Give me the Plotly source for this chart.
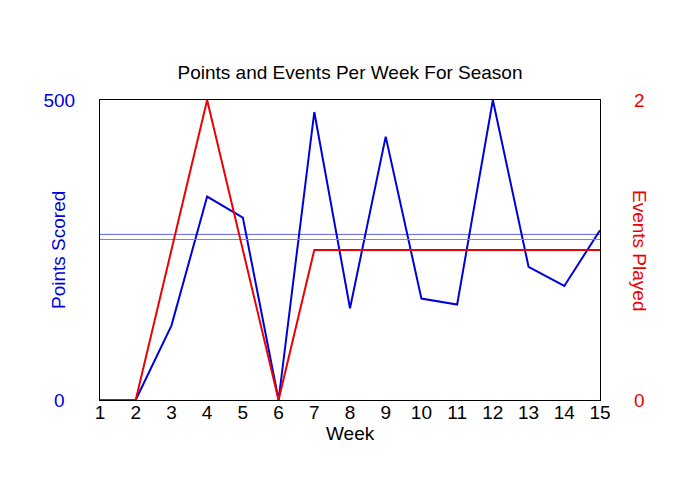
import plotly.graph_objects as go

weeks = list(range(1, 16))
points_scored = [0, 0, 124, 339, 304, 0, 480, 153, 439, 169, 159, 500, 222, 190, 283]
events_played = [0, 0, 1, 2, 1, 0, 1, 1, 1, 1, 1, 1, 1, 1, 1]
points_avg = 276
events_avg = 1.07

BLUE = "#0000DD"
RED = "#EE0000"
FONT = "Liberation Sans, Arial, sans-serif"

fig = go.Figure()
fig.add_trace(go.Scatter(x=[weeks[0], weeks[-1]], y=[points_avg, points_avg], mode="lines",
                         line=dict(color="#6464E8", width=1), yaxis="y", hoverinfo="skip"))
fig.add_trace(go.Scatter(x=[weeks[0], weeks[-1]], y=[events_avg, events_avg], mode="lines",
                         line=dict(color="#E86464", width=1), yaxis="y2", hoverinfo="skip"))
fig.add_trace(go.Scatter(x=weeks, y=points_scored, mode="lines",
                         line=dict(color=BLUE, width=2), yaxis="y"))
fig.add_trace(go.Scatter(x=weeks, y=events_played, mode="lines",
                         line=dict(color=RED, width=2), yaxis="y2"))

fig.update_layout(
    width=700, height=500,
    margin=dict(l=92, r=108, t=92, b=108),
    paper_bgcolor="white", plot_bgcolor="white",
    showlegend=False,
    font=dict(family=FONT, size=19, color="black"),
    title=dict(text="Points and Events Per Week For Season", x=(350 - 8) / 700, xanchor="center",
               y=1 - 64 / 500, yanchor="middle", font=dict(size=19, color="black")),
    xaxis=dict(range=[1, 15], tickvals=weeks, showgrid=False, zeroline=False,
               showline=True, mirror=True, linecolor="black", linewidth=1,
               ticks="", ticklen=0, ticklabelstandoff=-5, tickfont=dict(size=19, color="black")),
    yaxis=dict(range=[0, 500], tickvals=[0, 500], ticktext=["0\u2007", "500"],
               showgrid=False, zeroline=False, showline=True, mirror=True,
               linecolor="black", linewidth=1, ticks="", ticklen=0, ticklabelstandoff=20,
               tickfont=dict(size=19, color=BLUE)),
    yaxis2=dict(range=[0, 2], tickvals=[0, 2], overlaying="y", side="right",
                showgrid=False, zeroline=False, showline=False, ticks="", ticklen=0,
                ticklabelstandoff=33, tickfont=dict(size=19, color=RED)),
    annotations=[
        dict(text="Week", xref="paper", yref="paper", x=0.5, y=(400 - 433) / 300,
             xanchor="center", yanchor="middle", showarrow=False,
             font=dict(size=19, color="black")),
        dict(text="Points Scored", xref="paper", yref="paper", x=(58 - 100) / 500, y=0.5,
             xanchor="center", yanchor="middle", textangle=-90, showarrow=False,
             font=dict(size=19, color=BLUE)),
        dict(text="Events Played", xref="paper", yref="paper", x=(640 - 100) / 500, y=0.5,
             xanchor="center", yanchor="middle", textangle=90, showarrow=False,
             font=dict(size=19, color=RED)),
    ],
)

fig.write_html("out.html")
